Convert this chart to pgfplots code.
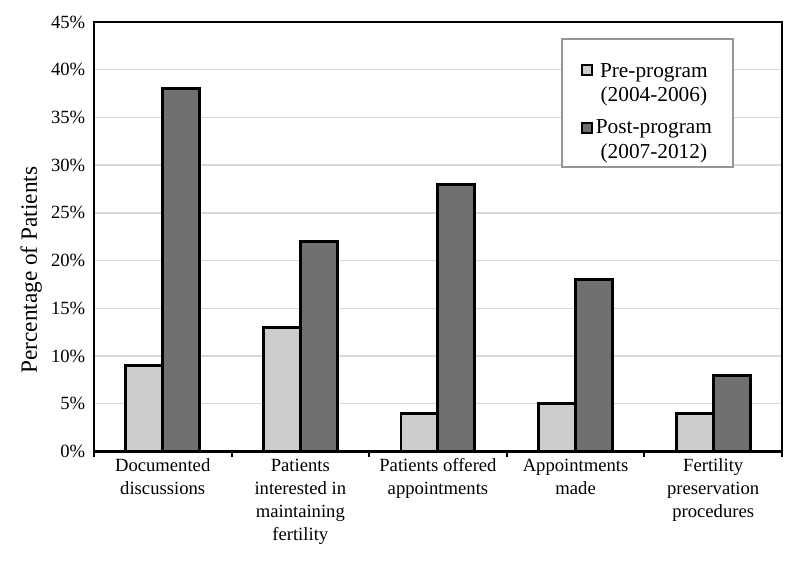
\documentclass[border=0pt]{standalone}
\usepackage{fontspec}
\setmainfont{Liberation Serif}
\usepackage{pgfplots}
\pgfplotsset{compat=1.18}

\definecolor{preprog}{RGB}{204,204,204}
\definecolor{postprog}{RGB}{112,112,112}
\definecolor{gridgray}{RGB}{217,217,217}
\definecolor{legframe}{RGB}{150,150,150}

\begin{document}
\begin{tikzpicture}
\begin{axis}[
  scale only axis,
  width=516.75pt, height=322.5pt,
  ybar=0pt, bar width=27.75pt,
  xmin=-0.5, xmax=4.5,
  ymin=0, ymax=45,
  ytick={0,5,...,45},
  yticklabel={\pgfmathprintnumber[assume math mode=true]{\tick}\%},
  yticklabel style={font=\fontsize{14}{16}\selectfont, xshift=-3pt},
  xtick={0,...,4},
  xticklabels={{Documented\\discussions},
    {Patients\\interested in\\maintaining\\fertility},
    {Patients offered\\appointments},
    {Appointments\\made},
    {Fertility\\preservation\\procedures}},
  xticklabel style={align=center, font=\fontsize{14}{17.3}\selectfont, yshift=-2pt},
  major tick length=0pt,
  extra x ticks={-0.5,0.5,1.5,2.5,3.5,4.5},
  extra x tick labels={},
  extra x tick style={major tick length=4pt, tick align=outside,
    xtick pos=bottom, grid=none,
    tick style={black, line width=1.5pt}},
  ymajorgrids,
  grid style={gridgray, line width=1pt},
  axis line style={black, line width=1.8pt},
  ylabel={Percentage of Patients},
  ylabel style={font=\fontsize{17.5}{20}\selectfont, at={(ticklabel cs:0.419)}, xshift=1pt},
  legend style={at={(0.93,0.963)}, anchor=north east,
    draw=legframe, line width=1.5pt,
    cells={align=center, line width=1pt},
    font=\fontsize{16}{18.5}\selectfont,
    row sep=8pt, inner xsep=14pt, inner ysep=3pt},
  legend image code/.code={
    \draw[#1, draw=black, line width=1.6pt] (2pt,5.5pt) rectangle (9.5pt,13pt);},
]
\addplot[fill=preprog, draw=black, line width=2.2pt,
  legend image code/.code={
    \draw[fill=preprog, draw=black, line width=1.6pt] (2pt,-0.5pt) rectangle (9.5pt,7pt);}]
  coordinates {(0,9) (1,13) (2,4) (3,5) (4,4)};
\addplot[fill=postprog, draw=black, line width=2.2pt] coordinates
  {(0,38) (1,22) (2,28) (3,18) (4,8)};
\legend{{\rule{0pt}{24pt}Pre-program\\(2004-2006)}, {Post-program\\(2007-2012)}}
\end{axis}
\pgfresetboundingbox
\path ([shift={(-70.5pt,-85.5pt)}]current axis.south west)
  rectangle ([shift={(13.5pt,16.5pt)}]current axis.north east);
\end{tikzpicture}
\end{document}
